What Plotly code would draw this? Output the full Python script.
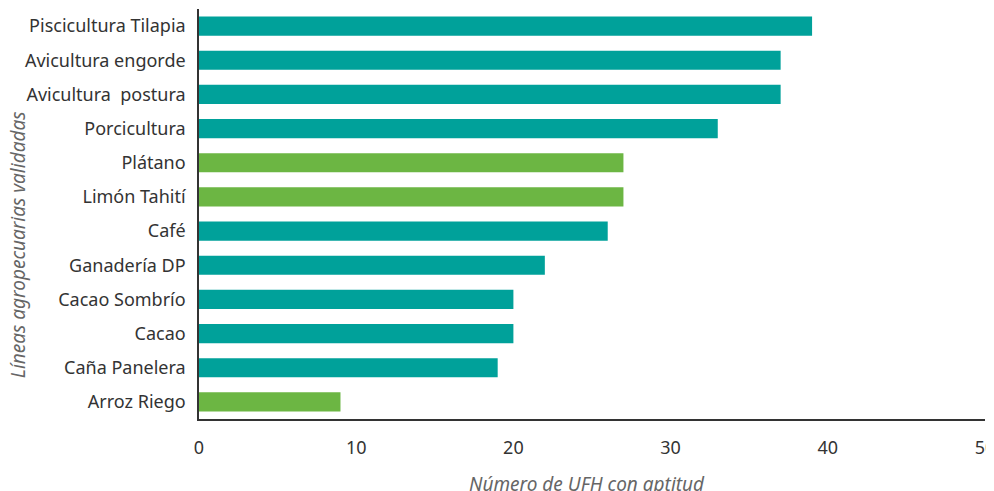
import plotly.graph_objects as go

categories = ["Piscicultura Tilapia", "Avicultura engorde", "Avicultura  postura",
              "Porcicultura", "Plátano", "Limón Tahití", "Café", "Ganadería DP",
              "Cacao Sombrío", "Cacao", "Caña Panelera", "Arroz Riego"]
values = [39, 37, 37, 33, 27, 27, 26, 22, 20, 20, 19, 9]
groups = ["pecuaria", "pecuaria", "pecuaria", "pecuaria", "agricola", "agricola",
          "pecuaria", "pecuaria", "pecuaria", "pecuaria", "pecuaria", "agricola"]
x_ticks = [0, 10, 20, 30, 40, 50]
x_title = "Número de UFH con aptitud"
y_title = "Líneas agropecuarias validadas"

color_map = {"pecuaria": "#00A19A", "agricola": "#6CB643"}
colors = [color_map[g] for g in groups]

fig = go.Figure(go.Bar(
    x=values, y=categories, orientation="h",
    marker=dict(color=colors, line=dict(width=0)),
))

font_family = "Noto Sans, Roboto, sans-serif"
fig.update_layout(
    width=994, height=491,
    margin=dict(l=191, r=17, t=1, b=80),
    paper_bgcolor="white", plot_bgcolor="white",
    font=dict(family=font_family, size=18, color="#333333"),
    showlegend=False,
    bargap=0.44,
)
fig.update_xaxes(
    range=[0, 50], tickvals=x_ticks, ticktext=[str(t) for t in x_ticks],
    showgrid=False, zeroline=False,
    showline=True, linecolor="#333333", linewidth=1.5,
    ticks="", ticklabelstandoff=12,
    tickfont=dict(size=18, color="#333333"),
    automargin=False,
)
fig.update_yaxes(
    categoryorder="array", categoryarray=categories[::-1],
    showgrid=False, zeroline=False,
    showline=True, linecolor="#333333", linewidth=1.5,
    ticks="", ticklabelstandoff=8,
    tickfont=dict(size=18, color="#333333"),
    automargin=False,
)
fig.add_annotation(
    text=f"<i>{x_title}</i>", xref="paper", yref="paper",
    x=0.4936, y=0, xanchor="center", yanchor="middle", yshift=-65,
    showarrow=False, font=dict(size=19, color="#666666"),
)
fig.add_annotation(
    text=f"<i>{y_title}</i>", xref="paper", yref="paper",
    x=0, y=0.424, xanchor="center", yanchor="middle", xshift=-181,
    textangle=-90, showarrow=False, font=dict(size=19, color="#666666"),
)

fig.write_html("out.html")
